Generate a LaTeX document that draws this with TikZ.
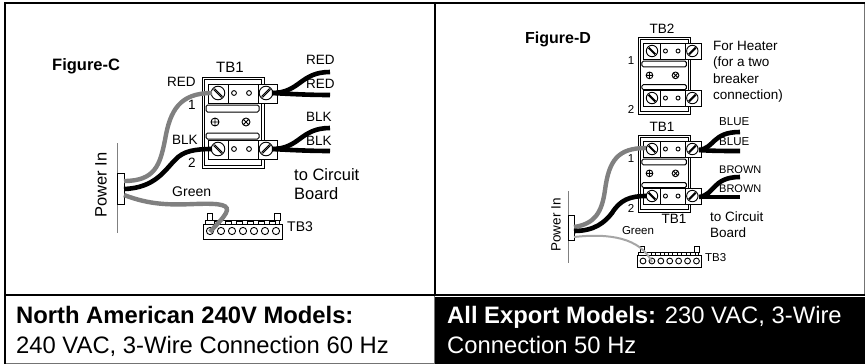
\documentclass[tikz,border=0pt]{standalone}
\usepackage{fontspec}
\setmainfont{Liberation Sans}
\usetikzlibrary{positioning}

\definecolor{wiregray}{gray}{0.5}
\definecolor{framegray}{gray}{0.45}

\tikzset{
	blackwire/.style={line width=4.6pt,black},
	graywire/.style={line width=4.4pt,wiregray},
	thinwire/.style={line width=2pt,gray!70},
	part/.style={line width=1pt,draw=black,fill=white},
	screw/.style={line width=.9pt},
	lbl/.style={inner sep=0pt,font=\fontsize{#1}{#1}\selectfont},
	blbl/.style={inner sep=0pt,font=\fontsize{#1}{#1}\selectfont\bfseries},
	tbblock/.pic={
		\draw [part] (-16,-16) rectangle (46,75);
		\draw [part] (-14,-14) rectangle (43,72);
		\draw [part,rounded corners=1.5pt] (-12,12) rectangle (41,19);
		\draw [part,rounded corners=1.5pt] (-12,40) rectangle (41,46);
		\foreach \ypos in {0,56} {
			\draw [part] (-10,\ypos-9) rectangle (59,\ypos+10);
			\draw [part] (10,\ypos-9) -- (10,\ypos+10);
			\draw [part] (40,\ypos-9) -- (40,\ypos+10);
			\draw [screw] (0,\ypos) circle [radius=6.8];
			\draw [screw] (48,\ypos) circle [radius=6.8];
			\draw [screw] (-4.5,\ypos-3.5) -- (3.5,\ypos+4.5) (-3.5,\ypos-4.5) -- (4.5,\ypos+3.5);
			\draw [screw] (43.5,\ypos+3.5) -- (51.5,\ypos-4.5) (44.5,\ypos+4.5) -- (52.5,\ypos-3.5);
			\draw [screw] (16,\ypos) circle [radius=2.4];
			\draw [screw] (31,\ypos) circle [radius=2.4];
		}
		\draw [screw] (-3,29) circle [radius=4] (-7,29) -- (1,29) (-3,25) -- (-3,33);
		\draw [screw] (28,29) circle [radius=4] (25.2,26.2) -- (30.8,31.8) (25.2,31.8) -- (30.8,26.2);
	},
	tbstrip/.pic={
		\draw [part] (-3,-18) rectangle (2,-11);
		\draw [part] (64,-18) rectangle (70,-11);
		\draw [part] (-5,-7) -- (-5,-11) -- (69,-11) -- (69,-7);
		\foreach \xpos in {4,15,26,37,48,59} {
			\draw [part] (\xpos,-7) -- (\xpos,-10) -- (\xpos+6,-10) -- (\xpos+6,-7);
		}
		\draw [part] (-7,-7) rectangle (72,8);
		\foreach \xpos in {0,11,...,66} {
			\draw [screw] (\xpos,0) circle [radius=3.6];
		}
	},
}

\begin{document}
\begin{tikzpicture}[x=1pt,y=-1pt]
	\useasboundingbox (0,0) rectangle (865,364);

	\coordinate (C1) at (212,93);
	\coordinate (C2) at (212,149);
	\coordinate (Cr1) at (272,93);
	\coordinate (Cr2) at (272,149);
	\coordinate (Ca) at (330,72);
	\coordinate (Cb) at (330,95);
	\coordinate (Cc) at (330,128);
	\coordinate (Cd) at (330,151);
	\coordinate (CP1) at (124,181);
	\coordinate (CP2) at (124,189);
	\coordinate (CP3) at (124,195);
	\coordinate (Cg) at (210,232);

	\coordinate (D1) at (646,148);
	\coordinate (D2) at (646,196);
	\coordinate (Dr1) at (699,150);
	\coordinate (Dr2) at (699,197);
	\coordinate (Da) at (740,132);
	\coordinate (Db) at (740,151);
	\coordinate (Dc) at (740,177);
	\coordinate (Dd) at (740,197);
	\coordinate (DP1) at (574,227);
	\coordinate (DP2) at (574,231);
	\coordinate (DP3) at (574,237);
	\coordinate (Dg) at (652,262);

	% panels
	\fill (435,297) rectangle (865,364);
	\draw [framegray,line width=.8pt] (864,3) -- (864,295);
	\draw [framegray,line width=.8pt] (5,363) -- (434.5,363) -- (434.5,295);
	\draw [line width=2pt] (5,363.5) -- (5,295);
	\draw [line width=2.5pt] (5,295) -- (5,3) -- (865,3);
	\draw [line width=2pt] (434.5,3) -- (434.5,295);
	\draw [line width=2pt] (5,295) -- (865,295);

	% figure C
	\draw [gray,line width=1pt] (117,143) -- (117,233);
	\draw [part] (117,173) rectangle (124,204);
	\pic at (218,93) {tbblock};
	\pic at (210,231) {tbstrip};
	\draw [graywire] (CP1) .. controls (155,181) and (160,165) .. (165,140) .. controls (170,110) and (180,93) .. (C1);
	\draw [blackwire] (CP2) .. controls (155,188) and (165,170) .. (175,160) .. controls (183,151) and (195,149) .. (C2);
	\draw [graywire] (CP3) .. controls (150,205) and (170,205) .. (195,204) .. controls (222,203) and (230,205) .. (226,213) .. controls (222,220) and (215,226) .. (Cg);
	\draw [blackwire] (Cr1) .. controls (300,93) and (300,72) .. (Ca);
	\draw [blackwire] (Cr1) .. controls (290,94) and (310,95) .. (Cb);
	\draw [blackwire] (Cr2) .. controls (300,149) and (300,128) .. (Cc);
	\draw [blackwire] (Cr2) .. controls (290,150) and (310,151) .. (Cd);

	\node [blbl=16.5,anchor=west] (figC) at (52,66) {Figure-C};
	\node [lbl=15] (tbC) at (230,67) {TB1};
	\node [lbl=13.5,anchor=west] (redL) at (167,82) {RED};
	\node [lbl=13.5,anchor=west] (blkL) at (172,140) {BLK};
	\node [lbl=13.5,anchor=west] (redA) at (306,60) {RED};
	\node [lbl=13.5,anchor=west] (redB) at (306,84) {RED};
	\node [lbl=13.5,anchor=west] (blkA) at (306,117) {BLK};
	\node [lbl=13.5,anchor=west] (blkB) at (306,141) {BLK};
	\node [lbl=13.5] (numCa) at (192,105) {1};
	\node [lbl=13.5] (numCb) at (192,163) {2};
	\node [lbl=14,anchor=west] (greenC) at (172,192) {Green};
	\node [lbl=16.5,rotate=90] (powC) at (101,185) {Power In};
	\node [lbl=16.5,anchor=west] (toC) at (294,175) {to Circuit};
	\node [lbl=16.5,anchor=west] (brdC) at (294,194) {Board};
	\node [lbl=14,anchor=west] (tbthreeC) at (287,227) {TB3};

	% figure D
	\draw [gray,line width=1pt] (568,191) -- (568,263);
	\draw [part] (568,215) rectangle (574,240);
	\pic [scale=.84] at (652,51) {tbblock};
	\pic [scale=.84] at (652,149) {tbblock};
	\pic [scale=.81] at (643,261) {tbstrip};
	\draw [graywire] (DP1) .. controls (595,224) and (602,212) .. (605,190) .. controls (609,160) and (618,148) .. (D1);
	\draw [blackwire] (DP2) .. controls (595,231) and (605,222) .. (612,213) .. controls (620,200) and (630,196) .. (D2);
	\draw [thinwire] (DP3) .. controls (610,233) and (640,238) .. (Dg);
	\draw [blackwire] (Dr1) .. controls (715,148) and (712,132) .. (Da);
	\draw [blackwire] (Dr1) .. controls (712,151) and (725,151) .. (Db);
	\draw [blackwire] (Dr2) .. controls (715,195) and (712,177) .. (Dc);
	\draw [blackwire] (Dr2) .. controls (712,197) and (725,197) .. (Dd);

	\node [blbl=16,anchor=west] (figD) at (525,39) {Figure-D};
	\node [lbl=13.5] (tbtwo) at (662,29) {TB2};
	\node [lbl=13.5] (tbDa) at (662,127) {TB1};
	\node [lbl=13.5] (tbDb) at (674,219) {TB1};
	\node [lbl=11.5] (numDa) at (631,61) {1};
	\node [lbl=11.5] (numDb) at (631,109) {2};
	\node [lbl=11.5] (numDc) at (631,159) {1};
	\node [lbl=11.5] (numDd) at (631,208) {2};
	\node [lbl=13.5,anchor=west] (heatA) at (713,46) {For Heater};
	\node [lbl=13.5,anchor=west] (heatB) at (713,63) {(for a two};
	\node [lbl=13.5,anchor=west] (heatC) at (713,79) {breaker};
	\node [lbl=13.5,anchor=west] (heatD) at (713,96) {connection)};
	\node [lbl=11.5,anchor=west] (bluA) at (719,122) {BLUE};
	\node [lbl=11.5,anchor=west] (bluB) at (719,142) {BLUE};
	\node [lbl=11,anchor=west] (broA) at (719,170) {BROWN};
	\node [lbl=11,anchor=west] (broB) at (719,189) {BROWN};
	\node [lbl=11.5] (greenD) at (638,231) {Green};
	\node [lbl=13.5,rotate=90] (powD) at (556,225) {Power In};
	\node [lbl=13.5,anchor=west] (toD) at (710,217) {to Circuit};
	\node [lbl=13.5,anchor=west] (brdD) at (710,233) {Board};
	\node [lbl=11.5,anchor=west] (tbthreeD) at (705,258) {TB3};

	% captions
	\node [blbl=23.8,anchor=base west] (capCa) at (16,323) {North American 240V Models:};
	\node [lbl=23.8,anchor=base west] (capCb) at (16,353) {240 VAC, 3-Wire Connection 60 Hz};
	\node [lbl=23.8,anchor=base west,text=white] (capDa) at (447,323) {\textbf{All Export Models:} 230 VAC, 3-Wire};
	\node [lbl=23.8,anchor=base west,text=white] (capDb) at (447,353) {Connection 50 Hz};
\end{tikzpicture}
\end{document}
